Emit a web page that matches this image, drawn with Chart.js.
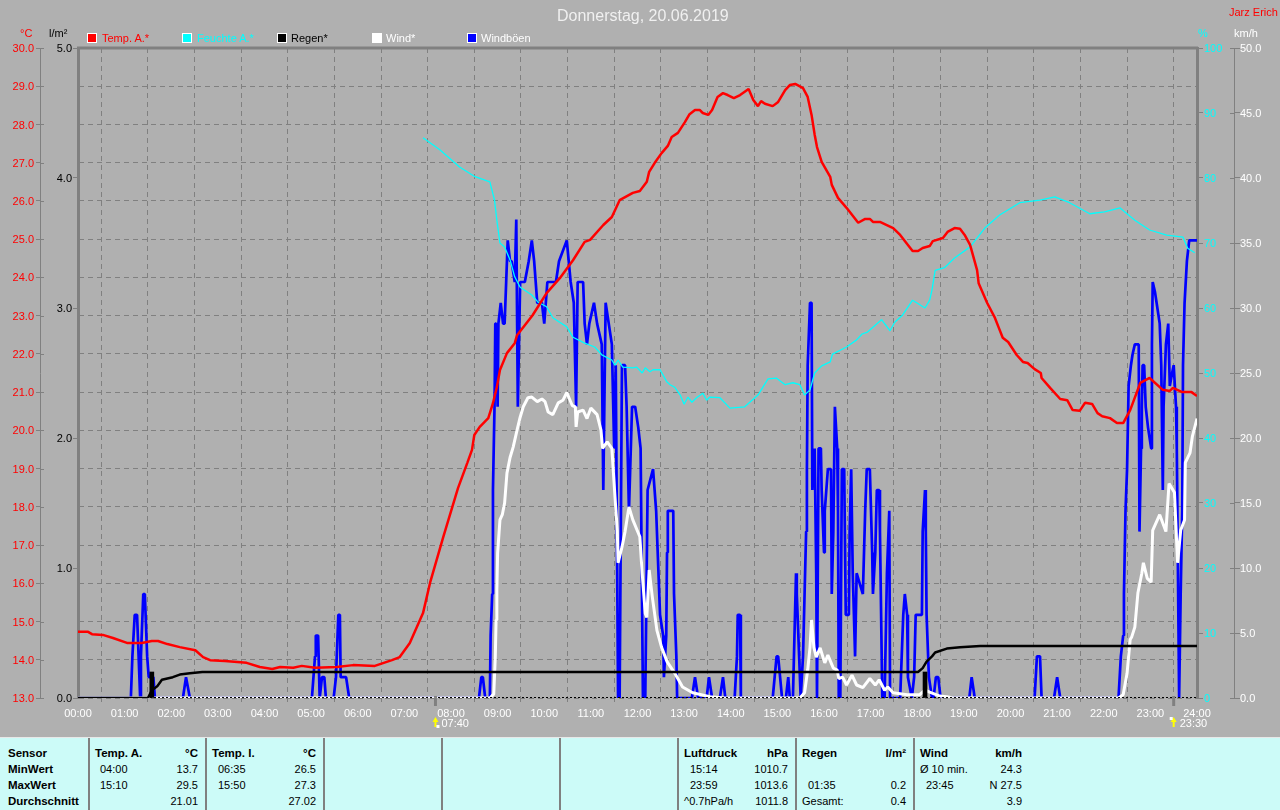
<!DOCTYPE html>
<html>
<head>
<meta charset="utf-8">
<title>Wetter 20.06.2019</title>
<script src="https://cdn.jsdelivr.net/npm/chart.js@4/dist/chart.umd.min.js"></script>
<style>
    html, body { margin: 0; padding: 0; background: #b0b0b0; overflow: hidden; }
    body { width: 1280px; height: 810px; position: relative; font-family: "Liberation Sans", Arial, sans-serif; font-size: 11px; }
    canvas { position: absolute; left: 0; top: 0; }
    .t { position: absolute; white-space: nowrap; line-height: 14px; }
    .r { transform: translateX(-100%); }
    .b { font-weight: bold; font-size: 11.5px; }
    .box { position: absolute; width: 8px; height: 8px; border: 1px solid #fff; top: 33px; }
    #table { position: absolute; left: 0; top: 737px; width: 1280px; height: 73px; background: #ccfbf8; border-top: 1px solid #e8e8e8; box-sizing: border-box; color: #000; }
    .sep { position: absolute; top: 0; width: 2px; height: 73px; background: #808080; }
</style>
</head>
<body>
<canvas id="chart" width="1280" height="738"></canvas>

<div class="t" style="left:557px;top:7px;color:#f0f0f0;font-size:16px;line-height:18px">Donnerstag, 20.06.2019</div>
<div class="t" style="left:1229px;top:5px;color:#f00">Jarz Erich</div>

<div class="t" style="left:20px;top:26px;color:#f00">°C</div>
<div class="t" style="left:49px;top:26px;color:#000">l/m²</div>
<div class="t" style="left:1198px;top:26px;color:#0ff">%</div>
<div class="t" style="left:1234px;top:26px;color:#fff">km/h</div>

<div class="box" style="left:87px;background:#f00"></div>
<div class="t" style="left:102px;top:31px;color:#f00">Temp. A.*</div>
<div class="box" style="left:182px;background:#0ff"></div>
<div class="t" style="left:197px;top:31px;color:#0ff">Feuchte A.*</div>
<div class="box" style="left:277px;background:#000"></div>
<div class="t" style="left:291px;top:31px;color:#000">Regen*</div>
<div class="box" style="left:372px;background:#fff"></div>
<div class="t" style="left:386px;top:31px;color:#fff">Wind*</div>
<div class="box" style="left:467px;background:#00f"></div>
<div class="t" style="left:481px;top:31px;color:#fff">Windböen</div>

<div id="table"></div>

<script>
// Zeiten in Minuten seit 00:00
const tempTimes = [0,13,18,32,45,63,82,95,103,115,131,151,161,170,189,217,234,250,260,277,288,305,333,354,382,404,414,427,444,453,470,489,501,507,510,517,528,534,539,543,552,562,565,585,603,620,637,652,659,676,687,697,714,723,732,735,742,751,759,764,772,781,787,794,800,804,811,816,823,830,836,844,852,863,869,875,879,884,894,901,910,916,923,933,939,944,948,951,957,968,970,978,989,1004,1013,1019,1023,1032,1049,1058,1068,1074,1081,1087,1096,1100,1113,1119,1128,1135,1141,1148,1157,1159,1170,1180,1185,1190,1197,1208,1216,1222,1231,1239,1240,1251,1264,1273,1280,1289,1296,1305,1312,1318,1328,1337,1345,1354,1367,1379,1396,1405,1409,1421,1433,1440];
const tempValues = [14.73,14.73,14.67,14.65,14.57,14.44,14.44,14.49,14.49,14.41,14.33,14.25,14.07,13.99,13.97,13.92,13.81,13.76,13.81,13.79,13.84,13.79,13.81,13.86,13.84,13.99,14.07,14.44,15.22,16.01,17.21,18.49,19.15,19.49,19.88,20.09,20.32,20.71,21.13,21.58,22.02,22.28,22.49,23.01,23.59,23.98,24.45,24.93,24.98,25.37,25.58,26.02,26.21,26.26,26.5,26.76,26.99,27.25,27.44,27.67,27.78,28.06,28.27,28.38,28.38,28.3,28.25,28.38,28.72,28.82,28.77,28.69,28.77,28.93,28.64,28.48,28.61,28.54,28.48,28.59,28.9,29.03,29.06,28.95,28.72,28.25,27.73,27.41,27.02,26.63,26.42,26.08,25.82,25.43,25.53,25.53,25.45,25.45,25.29,25.11,24.85,24.69,24.69,24.77,24.82,24.95,25.03,25.19,25.29,25.27,25.11,24.85,24.19,23.85,23.33,22.94,22.68,22.42,22.31,21.97,21.79,21.76,21.6,21.5,21.37,21.11,20.82,20.79,20.53,20.51,20.72,20.69,20.45,20.37,20.32,20.19,20.19,20.53,21.24,21.37,21.06,21.03,21.11,21,21,20.9];

const humidityTimes = [444,466,491,511,530,536,539,543,549,556,562,569,584,592,603,611,629,637,652,665,674,687,691,695,701,714,719,726,730,736,740,749,758,762,768,775,780,785,790,796,804,809,813,826,839,858,875,888,899,910,920,929,935,942,948,957,968,971,989,1002,1009,1016,1034,1045,1051,1061,1074,1090,1096,1099,1103,1115,1128,1148,1167,1186,1212,1238,1257,1276,1302,1321,1341,1360,1379,1401,1422,1428,1437];
const humidityValues = [86.2,84.3,81.7,80.2,79.4,76.6,73.5,70,69.4,67.4,64.8,63.2,62,60.9,60.2,58.5,57.1,55.5,54.6,54,52.8,52,51.2,52,50.9,50.8,50.9,50,50.8,50.2,50.5,50.5,48.6,48.2,47.8,46.6,45.2,46.3,45.5,46.2,46.9,45.8,46.3,46.2,44.6,44.8,46.6,49.1,49.2,48.2,48.5,48.2,46.6,47.4,50,51.1,51.7,52.9,54,55.1,56,56.3,58.2,56.5,57.8,58.9,61.2,60,61.2,62.8,65.8,66.2,67.7,69.4,72.3,74.3,76.2,76.6,77.1,76.2,74.5,74.8,75.4,73.5,72,71.2,70.9,69.2,68.5];

const rainTimes = [0,90,95,102,108,115,122,131,144,160,1081,1087,1092,1099,1103,1118,1135,1161,1440];
const rainValues = [0,0,0.06,0.09,0.14,0.15,0.16,0.18,0.19,0.2,0.2,0.23,0.28,0.32,0.35,0.38,0.39,0.4,0.4];
const rainBarTimes = [95,1090];
const rainBarValues = [0.2,0.2];

const windTimes = [
    0,530,535,537,538,539,540,543,546,549,552,556,560,565,569,573,579,584,591,597,601,605,611,618,624,629,636,640,641,643,650,655,660,668,673,675,681,687,691,694,695,700,704,709,714,723,726,730,732,735,739,745,751,758,768,778,791,813,832,
    929,935,939,942,944,947,950,955,961,965,972,977,979,984,989,996,1002,1010,1019,1026,1031,1038,1042,1049,1067,1083,1090,1096,1109,1118,1126,
    1339,1345,1350,1354,1356,1360,1364,1369,1371,1376,1381,1383,1392,1400,1404,1411,1415,1419,1424,1425,1431,1434,1440
];
const windValues = [
    0,0,0.3,3.15,6,8.3,11.15,13.7,14.1,15,17.3,18.5,19.3,20.6,21.6,22.4,23.1,23.15,22.8,23,22.8,22,21.8,22.7,22.9,23.5,22.5,22.4,20.85,22,22.15,21.5,22.3,21.8,20.6,19.2,19.7,19.2,15.5,12.9,10.4,11.6,12.8,14.7,13.7,12.4,9.6,6.5,6.2,9.85,7.8,5.2,3.9,2.8,1.9,0.85,0.4,0.1,0,
    0,0.4,2.15,3.9,6,3.9,3.15,3.85,2.7,3.3,2.3,2.15,1.5,1.6,1,1.75,1,0.8,1.5,1,1.4,0.6,0.85,0.4,0.25,0.25,0.6,0.45,0.15,0.1,0,
    0,0.25,1.9,4.5,4.7,5.45,8.1,9.6,10.4,9.2,8.9,12.9,14.1,12.8,16.5,15.8,10.4,12.9,13.7,18.1,18.85,20.1,21.5
];

const gustTimes = [
    0,68,69,70,73,76,79,80,81,84,86,89,91,94,97,99,
    135,139,144,
    301,305,306,309,311,314,317,319,
    329,332,333,335,337,338,345,349,
    516,519,521,524,
    530,531,533,534,536,537,538,540,541,544,547,549,551,553,556,558,562,564,566,569,575,580,584,587,591,597,600,604,615,619,629,634,638,641,643,650,652,655,658,664,668,674,676,679,683,687,690,692,695,697,700,704,706,709,713,717,721,724,727,730,733,740,744,746,749,753,754,757,758,759,766,767,770,771,
    788,790,794,798,
    809,812,816,
    826,830,833,
    845,848,849,852,853,
    894,899,901,906,
    911,914,916,
    920,924,925,928,930,933,935,937,938,939,942,944,945,946,948,950,951,952,953,956,957,960,961,965,969,970,972,974,977,978,979,981,983,986,988,992,993,995,996,997,1000,1002,1006,1010,1013,1015,1019,1022,1023,1026,1028,1031,1032,1035,1038,1041,1044,1045,
    1058,1060,1062,1064,1067,1068,1073,1076,1078,1081,1086,1087,1090,1091,1092,1095,1099,
    1101,1104,1107,1110,
    1147,1150,1154,
    1231,1234,1238,1240,
    1256,1260,1264,
    1339,1342,1345,1346,1348,1350,1352,1355,1357,1360,1365,1366,1368,1369,1370,1372,1374,1377,1381,1382,1383,1386,1388,1392,1394,1396,1397,1400,1403,1405,1408,1410,1413,1414,1417,1418,1419,1421,1422,1424,1427,1430,1440
];
const gustValues = [
    0,0,1.6,3.2,6.4,6.4,1.6,0,3.2,8,8,3.2,1.6,1.6,1.6,0,
    0,1.6,0,
    0,3.2,4.8,4.8,0,1.6,1.6,0,
    0,1.6,3.2,6.4,6.4,1.6,1.6,0,
    0,1.6,1.6,0,
    0,4.8,8,16,22.4,28.8,28.8,22.4,28.8,30.4,28.8,28.8,32,35.2,33.6,33.6,32,36.8,22.4,32,32,33.6,35.2,33.6,30.4,30.4,28.8,32,32,33.6,35.2,32,30.4,22.4,32,32,28.8,27.2,28.8,30.4,28.8,27.2,16,30.4,28.8,27.2,19.2,25.6,0,0,25.6,25.6,22.4,14.4,22.4,22.4,20.8,19.2,0,0,16,17.6,14.4,11.2,6.4,4.8,1.6,4.8,11.2,14.4,14.4,8,3.2,0,
    0,0,1.6,0,
    0,1.6,0,
    0,1.6,0,
    0,3.2,6.4,6.4,0,
    0,3.2,3.2,0,
    0,1.6,0,
    0,9.6,8,3.2,0,3.2,8,12.8,17.6,25.6,30.4,30.4,16,17.6,19.2,9.6,0,0,19.2,19.2,16,11.2,14.4,17.6,17.6,8,12.8,22.4,19.2,14.4,0,0,17.6,17.6,6.4,6.4,12.8,17.6,17.6,9.6,3.2,9.6,8.8,8,14.4,17.6,17.6,11.2,8,11.2,16,16,12.8,0,0,9.6,14.4,0,
    0,3.2,6.4,8,6.4,1.6,0,1.6,6.4,6.4,6.4,12.8,16,12.8,6.4,1.6,0,
    0,1.6,1.6,0,
    0,1.6,0,
    0,3.2,3.2,0,
    0,1.6,0,
    0,3.2,4.8,8,14.4,17.6,24,25.6,26.4,27.2,27.2,12.8,19.2,22.4,25.6,25.6,22.4,20.8,19.2,27.2,32,31.2,30.4,28.8,25.6,16,22.4,27.2,28.8,24,25,25.6,22.4,19.2,0,0,8,14.4,25.6,30.4,33.6,35.2,35.2,35.2
];

// Sonnenauf- und -untergang
const sunTimes = [460,1410];
const sunLabels = ['07:40','23:30'];

const sensorRows = [
    ['Sensor',8,752,1],['MinWert',8,768,1],['MaxWert',8,784,1],['Durchschnitt',8,800,1],
    ['Temp. A.',95,752,1],['04:00',100,768,0],['15:10',100,784,0],
    ['Temp. I.',212,752,1],['06:35',218,768,0],['15:50',218,784,0],
    ['Luftdruck',684,752,1],['15:14',690,768,0],['23:59',690,784,0],['^0.7hPa/h',684,800,0],
    ['Regen',802,752,1],['01:35',808,784,0],['Gesamt:',802,800,0],
    ['Wind',920,752,1],['Ø 10 min.',920,768,0],['23:45',926,784,0]
];
const sensorValues = [
    ['°C',198,752,1],['13.7',198,768,0],['29.5',198,784,0],['21.01',198,800,0],
    ['°C',316,752,1],['26.5',316,768,0],['27.3',316,784,0],['27.02',316,800,0],
    ['hPa',788,752,1],['1010.7',788,768,0],['1013.6',788,784,0],['1011.8',788,800,0],
    ['l/m²',906,752,1],['0.2',906,784,0],['0.4',906,800,0],
    ['km/h',1022,752,1],['24.3',1022,768,0],['N 27.5',1022,784,0],['3.9',1022,800,0]
];
const tableSeparators = [88,205,323,441,559,677,795,913];

function pairs(times, values) {
    if (times.length !== values.length) console.error('Längen passen nicht', times.length, values.length);
    return times.map((t, i) => ({ x: t, y: values[i] }));
}

function fixedWidth(w) {
    return function(scale) { scale.width = w; };
}

const FONT = { family: '"Liberation Sans", Arial, sans-serif', size: 11 };
const GREY = '#808080';

// Rahmen oben, gepunktete Grundlinie, innere Achsenstriche, Sonnenmarker
const decorPlugin = {
    id: 'decor',
    afterDraw(chart) {
        const ctx = chart.ctx;
        const area = chart.chartArea;
        ctx.save();
        ctx.strokeStyle = GREY;
        ctx.lineWidth = 3;
        ctx.beginPath();
        ctx.moveTo(area.left - 1, area.top);
        ctx.lineTo(area.right + 1, area.top);
        ctx.stroke();

        ctx.strokeStyle = '#000';
        ctx.lineWidth = 1;
        ctx.setLineDash([2, 2]);
        ctx.beginPath();
        ctx.moveTo(area.left, area.bottom - 0.5);
        ctx.lineTo(area.right, area.bottom - 0.5);
        ctx.stroke();
        ctx.setLineDash([]);

        ctx.strokeStyle = GREY;
        [chart.scales.yTemp, chart.scales.yWind].forEach(scale => {
            const edge = scale.id === 'yTemp' ? scale.right : scale.left;
            const dir = scale.id === 'yTemp' ? 1 : -1;
            scale.ticks.forEach(tick => {
                const y = Math.round(scale.getPixelForValue(tick.value)) + 0.5;
                ctx.beginPath();
                ctx.moveTo(edge, y);
                ctx.lineTo(edge + dir * 4, y);
                ctx.stroke();
            });
        });

        sunTimes.forEach((t, i) => {
            const x = chart.scales.x.getPixelForValue(t);
            ctx.strokeStyle = GREY;
            ctx.lineWidth = 3;
            ctx.beginPath();
            ctx.moveTo(x, 696);
            ctx.lineTo(x, 706);
            ctx.stroke();
            ctx.fillStyle = '#ffff00';
            ctx.beginPath();
            ctx.moveTo(x, 717);
            ctx.lineTo(x + 3, 722);
            ctx.lineTo(x + 1, 722);
            ctx.lineTo(x + 1, 727);
            ctx.lineTo(x - 1, 727);
            ctx.lineTo(x - 1, 722);
            ctx.lineTo(x - 3, 722);
            ctx.closePath();
            ctx.fill();
            ctx.fillStyle = '#fff';
            ctx.fillRect(x + (i === 0 ? 1 : -4), i === 0 ? 725 : 717, 3, 3);
            ctx.font = '11px "Liberation Sans", Arial, sans-serif';
            ctx.textAlign = 'left';
            ctx.textBaseline = 'middle';
            ctx.fillText(sunLabels[i], x + 6, 724);
        });
        ctx.restore();
    }
};

new Chart(document.getElementById('chart'), {
    type: 'line',
    data: {
        datasets: [
            { label: 'Temp. A.', data: pairs(tempTimes, tempValues), yAxisID: 'yTemp', borderColor: '#ff0000', borderWidth: 2.5 },
            { label: 'Feuchte A.', data: pairs(humidityTimes, humidityValues), yAxisID: 'yHumidity', borderColor: '#00ffff', borderWidth: 1.3 },
            { label: 'Regen', data: pairs(rainTimes, rainValues), yAxisID: 'yRain', borderColor: '#000000', borderWidth: 2.5 },
            { type: 'bar', label: 'Regenmenge', data: pairs(rainBarTimes, rainBarValues), yAxisID: 'yRain', backgroundColor: '#000000', barThickness: 4 },
            { label: 'Wind', data: pairs(windTimes, windValues), yAxisID: 'yWind', borderColor: '#ffffff', borderWidth: 3 },
            { label: 'Windböen', data: pairs(gustTimes, gustValues), yAxisID: 'yWind', borderColor: '#0000ff', borderWidth: 2.7 }
        ]
    },
    options: {
        responsive: false,
        animation: false,
        layout: { padding: { top: 48, left: 0, right: 0, bottom: 0 } },
        elements: { point: { radius: 0 }, line: { tension: 0, borderJoinStyle: 'bevel', borderCapStyle: 'butt' } },
        plugins: { legend: { display: false }, tooltip: { enabled: false } },
        scales: {
            x: {
                type: 'linear',
                min: 0,
                max: 1440,
                offset: false,
                afterFit(scale) { scale.height = 40; },
                grid: { color: GREY, tickLength: 4, tickBorderDash: [] },
                border: { display: false, dash: [5, 4] },
                ticks: {
                    stepSize: 60,
                    autoSkip: false,
                    maxRotation: 0,
                    color: '#ffffff',
                    font: FONT,
                    padding: 5,
                    callback: v => String(v / 60).padStart(2, '0') + ':00'
                }
            },
            yTemp: {
                position: 'left',
                weight: 2,
                min: 13,
                max: 30,
                afterFit: fixedWidth(40),
                grid: { color: GREY, tickLength: 4, tickColor: GREY },
                border: { display: true, color: GREY, width: 1, dash: [5, 4] },
                ticks: { stepSize: 1, autoSkip: false, color: '#ff0000', font: FONT, padding: 2, labelOffset: 1, callback: v => v.toFixed(1) }
            },
            yRain: {
                position: 'left',
                weight: 1,
                min: 0,
                max: 5,
                afterFit: fixedWidth(38),
                grid: { drawOnChartArea: false, tickLength: 5, tickColor: GREY },
                border: { display: true, color: GREY, width: 3 },
                ticks: { stepSize: 1, autoSkip: false, color: '#000000', font: FONT, padding: 1, labelOffset: 1, callback: v => v.toFixed(1) }
            },
            yHumidity: {
                position: 'right',
                weight: 1,
                min: 0,
                max: 100,
                afterFit: fixedWidth(37),
                grid: { drawOnChartArea: false, tickLength: 6, tickColor: GREY },
                border: { display: true, color: GREY, width: 3 },
                ticks: { stepSize: 10, autoSkip: false, color: '#00ffff', font: FONT, padding: 1, labelOffset: 1 }
            },
            yWind: {
                position: 'right',
                weight: 2,
                min: 0,
                max: 50,
                afterFit: fixedWidth(46),
                grid: { drawOnChartArea: false, tickLength: 6, tickColor: GREY },
                border: { display: true, color: GREY, width: 1 },
                ticks: { stepSize: 5, autoSkip: false, color: '#ffffff', font: FONT, padding: 0, labelOffset: 1, callback: v => v.toFixed(1) }
            }
        }
    },
    plugins: [decorPlugin]
});

// Tabelle unter dem Diagramm
const table = document.getElementById('table');
tableSeparators.forEach(x => {
    const sep = document.createElement('div');
    sep.className = 'sep';
    sep.style.left = x + 'px';
    table.appendChild(sep);
});
function addCell(row, rightAligned) {
    const cell = document.createElement('div');
    cell.className = 't' + (row[3] ? ' b' : '') + (rightAligned ? ' r' : '');
    cell.textContent = row[0];
    cell.style.left = row[1] + 'px';
    cell.style.top = (row[2] - 737 - 7) + 'px';
    table.appendChild(cell);
}
sensorRows.forEach(row => addCell(row, false));
sensorValues.forEach(row => addCell(row, true));
</script>
</body>
</html>
